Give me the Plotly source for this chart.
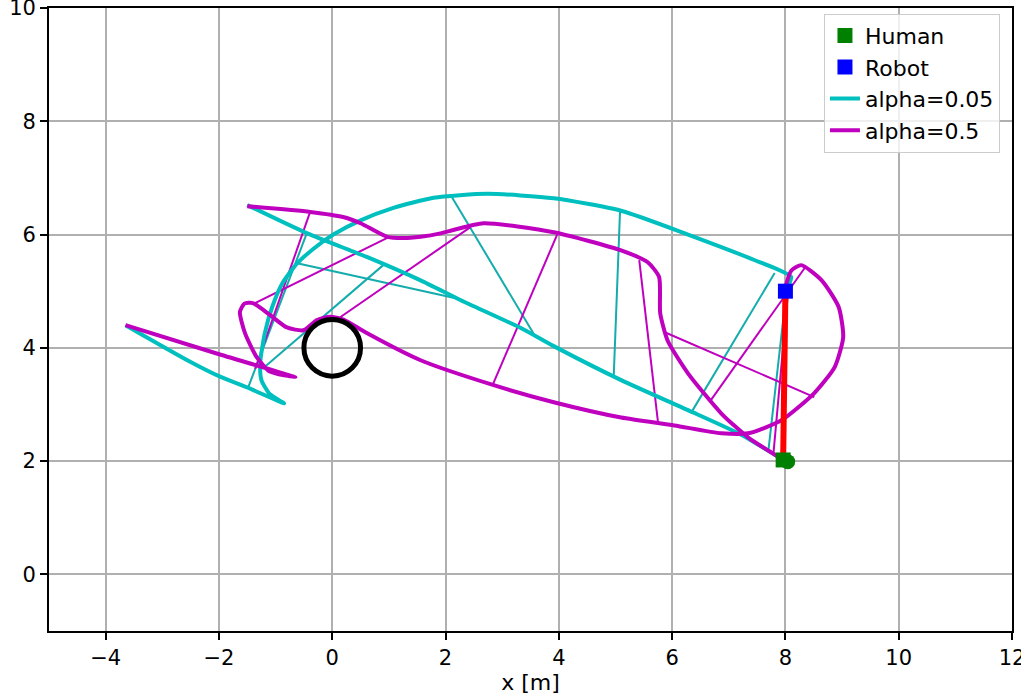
import plotly.graph_objects as go

# final positions
human_x, human_y = [7.96], [2.02]
robot_x, robot_y = [8.0], [5.0]
goal_x, goal_y = [8.04], [1.99]

# alpha=0.05 trajectories
human05_x = [-1.5, -0.44, 0.62, 1.56, 2.27, 3.33, 3.91, 5.10, 6.28, 7.17, 7.98]
human05_y = [6.52, 6.02, 5.60, 5.19, 4.84, 4.35, 4.03, 3.43, 2.90, 2.49, 2.01]
robot05_x = [-3.65, -2.5, -2.0, -1.5, -0.85, -1.1, -1.25, -1.27, -1.19, -1.06, -0.88,
             -0.62, -0.33, 0.02, 0.5, 1.08, 1.79, 2.74, 3.91, 5.10, 6.28, 7.45, 8.1, 8.0]
robot05_y = [4.40, 3.75, 3.50, 3.30, 3.02, 3.18, 3.43, 3.75, 4.26, 4.72, 5.14,
             5.49, 5.75, 6.0, 6.25, 6.47, 6.65, 6.72, 6.64, 6.42, 6.0, 5.55, 5.25, 5.0]

# alpha=0.5 trajectories
human5_x = [-1.5, -0.39, 0.19, 0.5, 0.97, 1.33, 1.56, 1.91, 2.14, 2.67, 3.91, 5.10,
            5.57, 5.77, 5.79, 5.92, 6.28, 6.87, 7.34, 7.98]
human5_y = [6.50, 6.40, 6.31, 6.20, 5.96, 5.94, 5.96, 6.02, 6.08, 6.20, 6.04, 5.72,
            5.51, 5.25, 4.61, 4.13, 3.55, 2.84, 2.42, 2.01]
robot5_x = [-3.65, -2.04, -0.65, -1.1, -1.33, -1.54, -1.63, -1.55, -1.4, -1.1, -0.8,
            -0.51, -0.27, -0.04, 0.2, 0.61, 1.56, 2.85, 3.91, 5.10, 6.04, 6.87, 7.34,
            7.93, 8.51, 8.87, 9.02, 8.94, 8.64, 8.28, 8.11, 8.02, 8.0]
robot5_y = [4.40, 3.90, 3.48, 3.58, 3.83, 4.26, 4.63, 4.78, 4.79, 4.58, 4.36,
            4.31, 4.49, 4.55, 4.50, 4.26, 3.78, 3.34, 3.04, 2.77, 2.63, 2.49, 2.49,
            2.72, 3.20, 3.66, 4.19, 4.72, 5.19, 5.46, 5.37, 5.14, 5.0]

# robot-human links at sampled steps
links05_rx = [-1.48, -1.22, -0.6, 2.09, 5.08, 7.81, 8.02]
links05_ry = [3.31, 3.64, 5.49, 6.70, 6.40, 5.32, 5.02]
links05_hx = [-0.45, 0.9, 2.2, 3.59, 4.97, 6.34, 7.70]
links05_hy = [6.02, 5.46, 4.87, 4.19, 3.52, 2.86, 2.19]

links5_rx = [-1.36, -1.40, 0.14, 2.83, 5.75, 8.51, 8.34, 8.05]
links5_ry = [3.63, 4.77, 4.54, 3.34, 2.69, 3.13, 5.41, 5.02]
links5_hx = [-0.39, 0.99, 2.44, 3.98, 5.42, 5.86, 6.66, 7.79]
links5_hy = [6.40, 5.95, 6.13, 6.02, 5.55, 4.28, 3.04, 2.15]

# obstacle
obs_x, obs_y, obs_r = 0.0, 4.0, 0.5

CYAN = "#00bfbf"
MAGENTA = "#bf00bf"


def segments(ax, ay, bx, by):
    xs, ys = [], []
    for x0, y0, x1, y1 in zip(ax, ay, bx, by):
        xs += [x0, x1, None]
        ys += [y0, y1, None]
    return xs, ys


fig = go.Figure()

lx, ly = segments(links05_rx, links05_ry, links05_hx, links05_hy)
fig.add_trace(go.Scatter(x=lx, y=ly, mode="lines", line=dict(color="#14acac", width=2),
                         showlegend=False, hoverinfo="skip"))
lx, ly = segments(links5_rx, links5_ry, links5_hx, links5_hy)
fig.add_trace(go.Scatter(x=lx, y=ly, mode="lines", line=dict(color=MAGENTA, width=2),
                         showlegend=False, hoverinfo="skip"))

fig.add_trace(go.Scatter(x=robot05_x, y=robot05_y, mode="lines",
                         line=dict(color=CYAN, width=4, shape="spline", smoothing=0.6),
                         showlegend=False))
fig.add_trace(go.Scatter(x=human05_x, y=human05_y, mode="lines", name="alpha=0.05",
                         line=dict(color=CYAN, width=4, shape="spline", smoothing=0.6),
                         legendgroup="c", legendrank=3))
fig.add_trace(go.Scatter(x=robot5_x, y=robot5_y, mode="lines",
                         line=dict(color=MAGENTA, width=4, shape="spline", smoothing=0.6),
                         showlegend=False))
fig.add_trace(go.Scatter(x=human5_x, y=human5_y, mode="lines", name="alpha=0.5",
                         line=dict(color=MAGENTA, width=4, shape="spline", smoothing=0.6),
                         legendgroup="m", legendrank=4))

# final link
fig.add_trace(go.Scatter(x=[robot_x[0], human_x[0]], y=[robot_y[0], human_y[0]], mode="lines",
                         line=dict(color="red", width=6), showlegend=False))

fig.add_trace(go.Scatter(x=goal_x, y=goal_y, mode="markers",
                         marker=dict(color="green", size=15, symbol="circle"), showlegend=False))
fig.add_trace(go.Scatter(x=human_x, y=human_y, mode="markers", name="Human",
                         marker=dict(color="green", size=15, symbol="square"),
                         legendgroup="h", legendrank=1))
fig.add_trace(go.Scatter(x=robot_x, y=robot_y, mode="markers", name="Robot",
                         marker=dict(color="blue", size=15, symbol="square"),
                         legendgroup="r", legendrank=2))

fig.add_shape(type="circle", xref="x", yref="y",
              x0=obs_x - obs_r, x1=obs_x + obs_r, y0=obs_y - obs_r, y1=obs_y + obs_r,
              line=dict(color="black", width=5))

axis_style = dict(
    showgrid=True, gridcolor="#b0b0b0", gridwidth=1.5, zeroline=False,
    showline=True, linecolor="black", linewidth=1.7, mirror=True,
    ticks="outside", ticklen=7, tickwidth=1.5, tickcolor="black",
    tickfont=dict(family="DejaVu Sans", size=21, color="black"),
    automargin=False, ticklabeloverflow="allow",
)

fig.update_xaxes(range=[-5, 12], dtick=2, title=dict(text="x [m]", standoff=2,
                 font=dict(family="DejaVu Sans", size=22, color="black")), **axis_style)
fig.update_yaxes(range=[-1, 10], dtick=2, **axis_style)

fig.update_layout(
    width=1021, height=697,
    margin=dict(l=49, r=9, t=8, b=66),
    plot_bgcolor="white", paper_bgcolor="white",
    font=dict(family="DejaVu Sans", size=22, color="black"),
    legend=dict(x=0.9875, y=0.991, xanchor="right", yanchor="top",
                bgcolor="rgba(255,255,255,0.8)", bordercolor="#cccccc", borderwidth=1,
                traceorder="grouped", tracegroupgap=0,
                font=dict(family="DejaVu Sans", size=22, color="black")),
)

# page body has a default margin; drop it so the figure sits at the window's corner
fig.write_html("out.html", config={"displayModeBar": False},
               post_script="document.body.style.margin='0';")
